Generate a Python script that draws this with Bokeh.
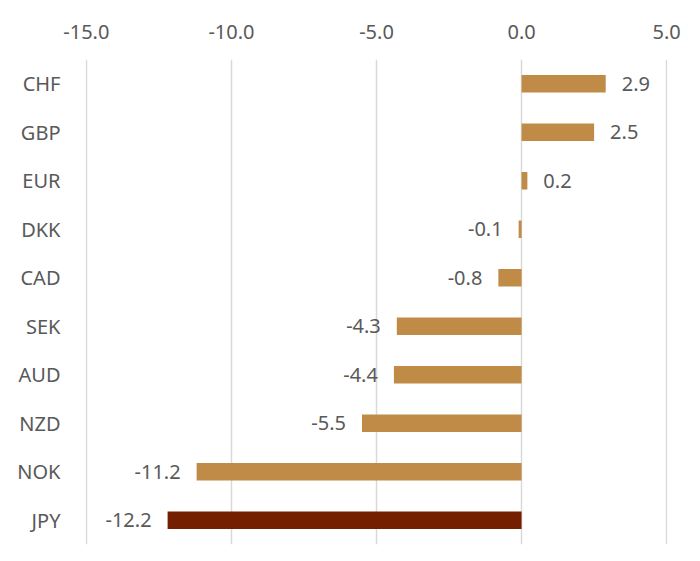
from bokeh.plotting import figure
from bokeh.models import ColumnDataSource, FactorRange, Range1d, FixedTicker, NumeralTickFormatter, LinearAxis
from bokeh.core.properties import value
from bokeh.embed import file_html
from bokeh.resources import INLINE

currencies = ["CHF", "GBP", "EUR", "DKK", "CAD", "SEK", "AUD", "NZD", "NOK", "JPY"]
changes = [2.9, 2.5, 0.2, -0.1, -0.8, -4.3, -4.4, -5.5, -11.2, -12.2]
highlight = "JPY"
x_ticks = [-15, -10, -5, 0, 5]

TAN = "#BF8B47"
DARK = "#731F00"
TXT = "#595959"
FONT = "Noto Sans"
FS = "20px"

colors = [DARK if c == highlight else TAN for c in currencies]
labels = ["%.1f" % v for v in changes]

src = ColumnDataSource(dict(cur=currencies, val=changes, col=colors, lab=labels))
pos = ColumnDataSource(dict(cur=[c for c, v in zip(currencies, changes) if v >= 0],
                            val=[v for v in changes if v >= 0],
                            lab=["%.1f" % v for v in changes if v >= 0]))
neg = ColumnDataSource(dict(cur=[c for c, v in zip(currencies, changes) if v < 0],
                            val=[v for v in changes if v < 0],
                            lab=["%.1f" % v for v in changes if v < 0]))

p = figure(width=684, height=553, output_backend="svg", toolbar_location=None,
           y_range=FactorRange(factors=list(reversed(currencies))),
           x_range=Range1d(-15.03, 5.03), x_axis_location=None,
           min_border_left=85, min_border_right=17, min_border_top=59, min_border_bottom=9)
p.outline_line_color = None
p.background_fill_color = "white"
p.border_fill_color = "white"

p.hbar(y="cur", right="val", left=0, height=0.36, source=src, fill_color="col", line_color=None)

p.text(x="val", y="cur", text="lab", source=pos, x_offset=16, text_align="left", text_baseline="middle",
       text_font=value(FONT), text_font_size=FS, text_color=TXT)
p.text(x="val", y="cur", text="lab", source=neg, x_offset=-16, text_align="right", text_baseline="middle",
       text_font=value(FONT), text_font_size=FS, text_color=TXT)

xa = LinearAxis(ticker=FixedTicker(ticks=x_ticks), formatter=NumeralTickFormatter(format="0.0"))
xa.axis_line_color = None
xa.major_tick_line_color = None
xa.minor_tick_line_color = None
xa.major_label_text_font = FONT
xa.major_label_text_font_size = FS
xa.major_label_text_color = TXT
xa.major_label_standoff = 15
p.add_layout(xa, "above")

ya = p.yaxis[0]
ya.axis_line_color = None
ya.major_tick_line_color = None
ya.minor_tick_line_color = None
ya.major_label_text_font = FONT
ya.major_label_text_font_size = FS
ya.major_label_text_color = TXT
ya.major_label_standoff = 19

p.ygrid.grid_line_color = None
p.xgrid.ticker = FixedTicker(ticks=x_ticks)
p.xgrid.grid_line_color = "#D9D9D9"
p.xgrid.grid_line_width = 1.5

open("out.html", "w").write(file_html(p, INLINE))
